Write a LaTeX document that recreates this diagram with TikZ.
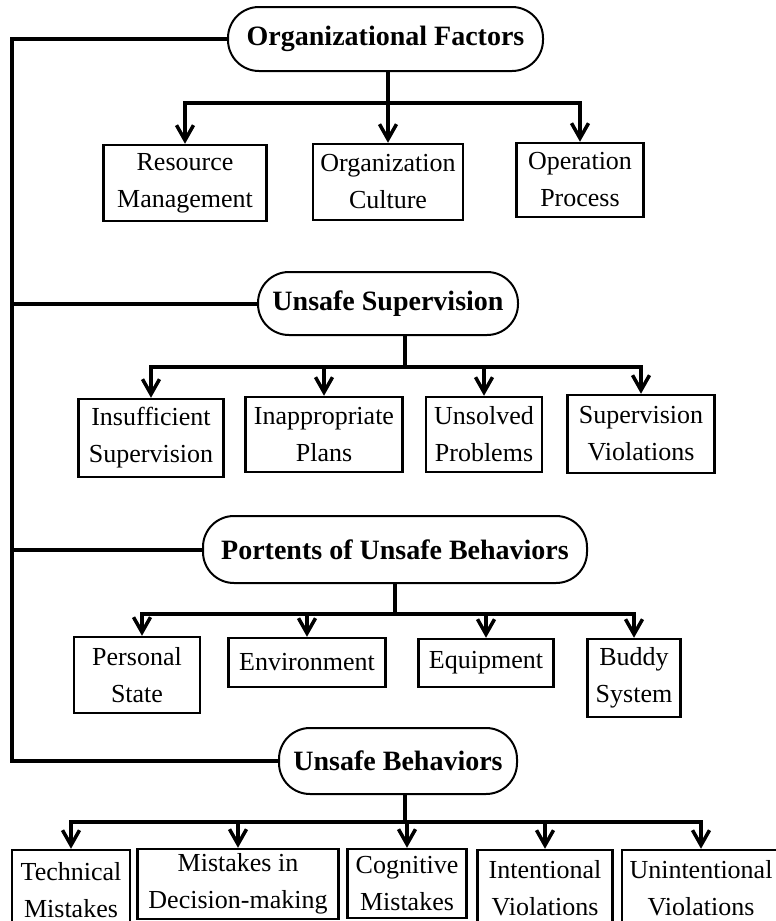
\documentclass[tikz,border=0pt]{standalone}
\usepackage{fontspec}
\setmainfont{Liberation Serif}
\usetikzlibrary{arrows.meta}
\tikzset {
category/.style={shape=rectangle,draw,line width=2pt,rounded corners=31pt,inner sep=0pt,font=\fontsize{28}{34}\selectfont\bfseries},
factor/.style={shape=rectangle,draw,line width=2.5pt,inner sep=0pt,align=center,font=\fontsize{26}{37}\selectfont},
link/.style={line width=3.5pt},
spine/.style={line width=4pt}
}

\begin{document}
\begin{tikzpicture}
[x=1pt,y=-1pt,>={Straight Barb[length=15pt,width=17pt]}]
\fill[white] (0,0) rectangle (776,921);
\useasboundingbox (0,0) rectangle (776,921);

\node[category,minimum width=315pt,minimum height=64pt] (organizational factors) at (385.5,39) {Organizational Factors};
\node[factor,minimum width=163pt,minimum height=76pt] (resource management) at (185,183) {Resource\\Management};
\node[factor,minimum width=150pt,minimum height=76pt] (organization culture) at (388,182) {Organization\\Culture};
\node[factor,minimum width=127pt,minimum height=74pt] (operation process) at (580,180) {Operation\\Process};

\node[category,minimum width=260pt,minimum height=63pt] (unsafe supervision) at (388,303.5) {Unsafe Supervision};
\node[factor,minimum width=145pt,minimum height=78pt] (insufficient supervision) at (151,438) {Insufficient\\Supervision};
\node[factor,minimum width=157pt,minimum height=75pt] (inappropriate plans) at (324,434.5) {Inappropriate\\Plans};
\node[factor,minimum width=116pt,minimum height=75pt] (unsolved problems) at (484,434.5) {Unsolved\\Problems};
\node[factor,minimum width=147pt,minimum height=78pt] (supervision violations) at (641,434) {Supervision\\Violations};

\node[category,minimum width=384pt,minimum height=67pt] (portents) at (395,549.5) {Portents of Unsafe Behaviors};
\node[factor,minimum width=126pt,minimum height=76pt] (personal state) at (137,675) {Personal\\State};
\node[factor,minimum width=157pt,minimum height=49pt] (environment) at (307,662.5) {Environment};
\node[factor,minimum width=135pt,minimum height=48pt] (equipment) at (486,663) {Equipment};
\node[factor,minimum width=93pt,minimum height=78pt] (buddy system) at (634,678) {Buddy\\System};

\node[category,minimum width=238pt,minimum height=66pt] (unsafe behaviors) at (398,761) {Unsafe Behaviors};
\node[factor,minimum width=118pt,minimum height=80pt] (technical mistakes) at (71,890) {Technical\\Mistakes};
\node[factor,minimum width=201pt,minimum height=70pt] (decision mistakes) at (238,884) {Mistakes in\\Decision-making};
\node[factor,minimum width=119pt,minimum height=69pt] (cognitive mistakes) at (407,883.5) {Cognitive\\Mistakes};
\node[factor,minimum width=135pt,minimum height=76pt] (intentional violations) at (545,888) {Intentional\\Violations};
\node[factor,minimum width=158pt,minimum height=76pt] (unintentional violations) at (701,888) {Unintentional\\Violations};

\coordinate (trunk bottom) at (12,761);
\coordinate (of fan) at (388,103);
\coordinate (us fan) at (405,367);
\coordinate (pb fan) at (395,614);
\coordinate (ub fan) at (405,822);

% left trunk
\draw[spine] (organizational factors.west) -| (trunk bottom) -- (unsafe behaviors.west);
\draw[spine] (unsafe supervision.west) -- (unsafe supervision.west -| trunk bottom);
\draw[spine] (portents.west) -- (portents.west -| trunk bottom);

\draw[link] (organizational factors.south -| of fan) -- (of fan);
\draw[link,->] (of fan) -| (resource management.north);
\draw[link,->] (of fan) -- (organization culture.north);
\draw[link,->] (of fan) -| (operation process.north);

\draw[link] (unsafe supervision.south -| us fan) -- (us fan);
\draw[link,->] (us fan) -| (insufficient supervision.north);
\draw[link,->] (us fan) -| (inappropriate plans.north);
\draw[link,->] (us fan) -| (unsolved problems.north);
\draw[link,->] (us fan) -| (supervision violations.north);

\draw[link] (portents.south -| pb fan) -- (pb fan);
\draw[link,->] (pb fan) -| ([xshift=5pt]personal state.north);
\draw[link,->] (pb fan) -| (environment.north);
\draw[link,->] (pb fan) -| (equipment.north);
\draw[link,->] (pb fan) -| (buddy system.north);

\draw[link] (unsafe behaviors.south -| ub fan) -- (ub fan);
\draw[link,->] (ub fan) -| (technical mistakes.north);
\draw[link,->] (ub fan) -| (decision mistakes.north);
\draw[link,->] (ub fan) -| (cognitive mistakes.north);
\draw[link,->] (ub fan) -| (intentional violations.north);
\draw[link,->] (ub fan) -| (unintentional violations.north);
\end{tikzpicture}
\end{document}
